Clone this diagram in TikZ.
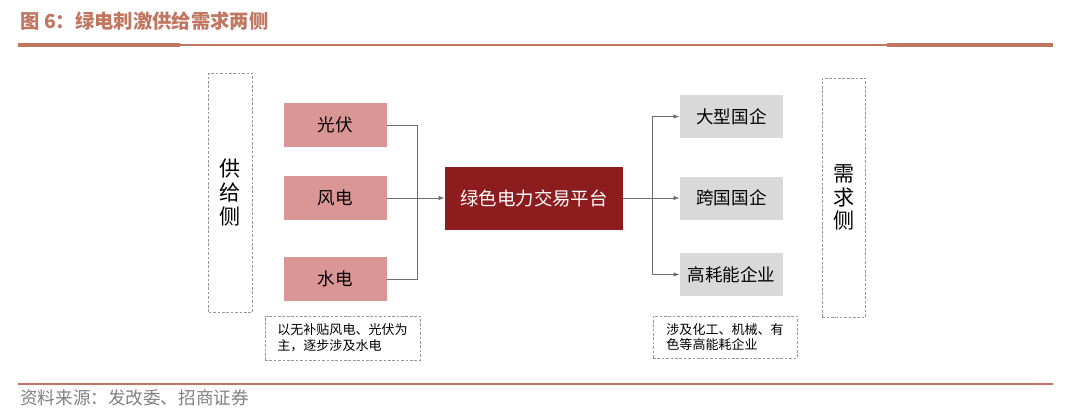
\documentclass[tikz,border=0pt]{standalone}
\usepackage{fontspec}
\setmainfont{Noto Sans CJK SC}
\usetikzlibrary{arrows.meta}
\definecolor{rulebrown}{RGB}{192,118,96}
\definecolor{srcpink}{RGB}{217,150,148}
\definecolor{hubred}{RGB}{140,28,30}
\definecolor{usergray}{RGB}{217,217,217}
\definecolor{linegray}{RGB}{110,110,110}
\definecolor{dashgray}{RGB}{150,150,150}
\begin{document}
\begin{tikzpicture}[x=0.02cm,y=-0.02cm,
	src/.style={fill=srcpink,minimum width=2.06cm,minimum height=0.88cm,inner sep=0pt,font=\fontsize{10}{12}\selectfont},
	user/.style={fill=usergray,minimum width=2.06cm,minimum height=0.86cm,inner sep=0pt,font=\fontsize{10}{12}\selectfont},
	side/.style={draw=dashgray,dash pattern=on 1.5pt off 1pt,line width=0.5pt,minimum width=0.87cm,minimum height=4.78cm,inner sep=0pt,align=center,font=\fontsize{12}{13.5}\selectfont},
	note/.style={draw=dashgray,dash pattern=on 1.5pt off 1pt,line width=0.5pt,inner sep=0pt,align=left,font=\fontsize{7.4}{9}\selectfont},
	link/.style={draw=linegray,line width=0.5pt},
	arr/.style={link,-{Latex[length=3.5pt,width=2.6pt]}}]
	\useasboundingbox (0,0) rectangle (1080,417);
	% header and footer
	\node[anchor=west,inner sep=0pt,text=rulebrown,font=\fontsize{11}{13}\selectfont\bfseries] (title) at (20,21) {图 6：绿电刺激供给需求两侧};
	\draw[rulebrown,line width=1.1pt] (18,45) -- (1053,45);
	\draw[rulebrown,line width=1.8pt] (18,45) -- (180,45);
	\draw[rulebrown,line width=1.8pt] (887,45) -- (1053,45);
	\draw[rulebrown,line width=1.1pt] (18,384) -- (1053,384);
	\node[anchor=west,inner sep=0pt,text=gray,font=\fontsize{10}{12}\selectfont] (source) at (20,398) {资料来源：发改委、招商证券};
	% supply side
	\node[side] (supply) at (230.5,192.5) {供\\给\\侧};
	\node[src] (pv) at (335.5,125) {光伏};
	\node[src] (wind) at (335.5,198) {风电};
	\node[src] (hydro) at (335.5,279) {水电};
	\node[note,minimum width=3.1cm,minimum height=0.88cm] (snote) at (342.5,338) {以无补贴风电、光伏为\\主，逐步涉及水电};
	% platform
	\node[fill=hubred,text=white,minimum width=3.56cm,minimum height=1.26cm,inner sep=0pt,font=\fontsize{10.5}{12}\selectfont] (hub) at (534,198) {绿色电力交易平台};
	% demand side
	\node[user] (soe) at (731.5,116.5) {大型国企};
	\node[user] (mnc) at (731.5,198) {跨国国企};
	\node[user] (heavy) at (731.5,274.5) {高耗能企业};
	\node[side] (demand) at (844,197.5) {需\\求\\侧};
	\node[note,minimum width=2.88cm,minimum height=0.84cm] (dnote) at (725,337) {涉及化工、机械、有\\色等高能耗企业};
	% connectors
	\coordinate (lj) at (417,198);
	\coordinate (rj) at (652,198);
	\draw[link] (pv.east) -| (lj);
	\draw[link] (hydro.east) -| (lj);
	\draw[arr] (wind.east) -- (hub.west);
	\draw[link] (hub.east) -- (rj);
	\draw[arr] (rj) |- (soe.west);
	\draw[arr] (rj) -- (mnc.west);
	\draw[arr] (rj) |- (heavy.west);
\end{tikzpicture}
\end{document}
